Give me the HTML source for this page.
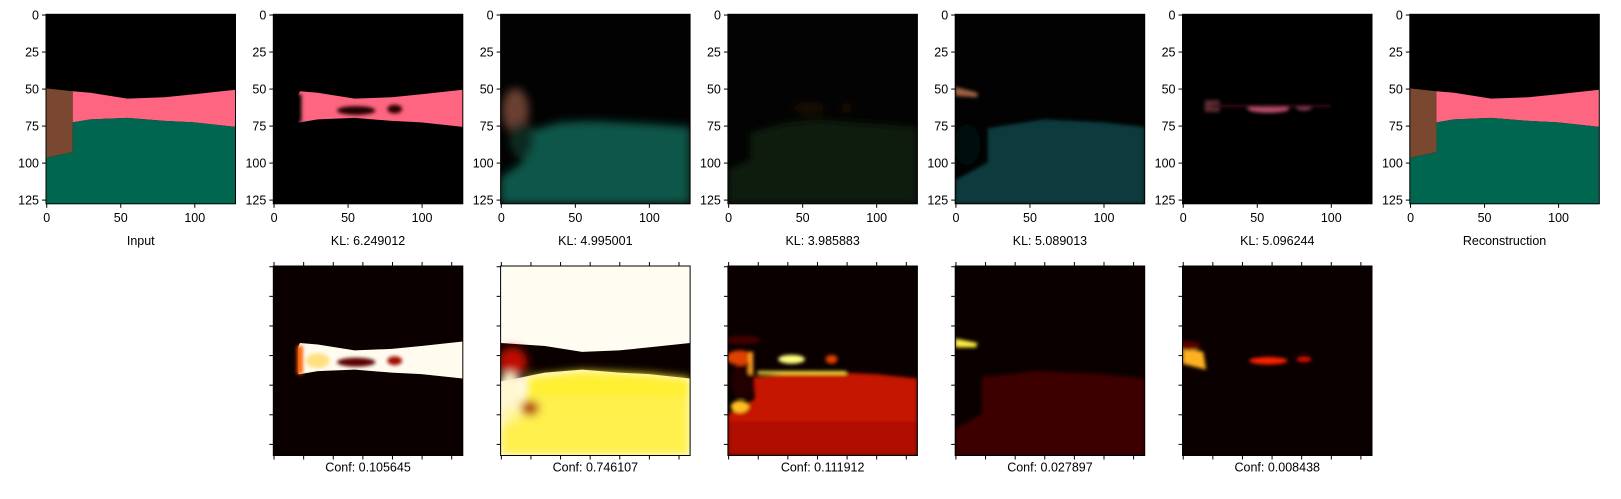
<!DOCTYPE html>
<html><head><meta charset="utf-8"><style>
html,body{margin:0;padding:0;background:#fff;width:1621px;height:499px;overflow:hidden}
svg{display:block;font-family:"Liberation Sans","DejaVu Sans",sans-serif}
</style></head><body>
<svg id="fig" width="1621" height="499" viewBox="0 0 1621 499" xmlns="http://www.w3.org/2000/svg">
<defs>
<filter id="b1" x="-20%" y="-20%" width="140%" height="140%"><feGaussianBlur stdDeviation="1.2"/></filter>
<filter id="b2" x="-20%" y="-20%" width="140%" height="140%"><feGaussianBlur stdDeviation="3"/></filter>
<clipPath id="cp"><rect x="0" y="0" width="128" height="128"/></clipPath>
</defs>
<g id="panels"></g>
</svg>
<script>
const topLabels = ["Input","KL: 6.249012","KL: 4.995001","KL: 3.985883","KL: 5.089013","KL: 5.096244","Reconstruction"];
const confLabels = ["Conf: 0.105645","Conf: 0.746107","Conf: 0.111912","Conf: 0.027897","Conf: 0.008438"];
const yTicks = [0,25,50,75,100,125];
const xTicks = [0,50,100];
const bTicks = [0,20,40,60,80,100,120];
const W = 189.5;
const topX = [46,273.3,500.6,727.9,955.2,1182.5,1409.8];
const TOPY = 14.3, BOTY = 266;
const S = W/128;

const pinkTop = "18,52 30,53 55,57 80,56 100,54 128,51";
const pinkBot = "128,76 100,73 80,72 55,70 30,71 18,73";
const contents = {
 input: `<rect width="128" height="128" fill="#000"/>
  <polygon points="${pinkTop} ${pinkBot}" fill="#fe6580"/>
  <polygon points="18,73 30,71 55,70 80,72 100,73 128,76 128,128 0,128 0,97 18,93" fill="#016650"/>
  <polygon points="0,50 18,52 18,93 0,97" fill="#7a4830"/>`,
 kl1: `<rect width="128" height="128" fill="#000"/>
  <polygon points="17,54 ${pinkTop} ${pinkBot} 17,73" fill="#fe6580"/>
  <g filter="url(#b1)"><ellipse cx="56" cy="65" rx="13" ry="3" fill="#200"/><ellipse cx="82" cy="64" rx="5" ry="3" fill="#300"/><rect x="15" y="54" width="4" height="19" fill="#000"/></g>`,
 kl2: `<rect width="128" height="128" fill="#020202"/>
  <g filter="url(#b2)"><polygon points="15,80 40,73 60,72 100,74 128,76 128,128 0,128 0,110 15,100" fill="#0c5748"/>
  <ellipse cx="10" cy="65" rx="9" ry="15" fill="#6a4030"/><ellipse cx="14" cy="85" rx="8" ry="12" fill="#0a2a22"/></g>`,
 kl3: `<rect width="128" height="128" fill="#030303"/>
  <g filter="url(#b2)"><polygon points="15,80 40,73 60,71 100,74 128,76 128,128 0,128 0,105 15,98" fill="#111a0c"/>
  <ellipse cx="55" cy="63" rx="12" ry="2" fill="#2a1410"/><ellipse cx="80" cy="63" rx="5" ry="2" fill="#2a1410"/></g>`,
 kl4: `<rect width="128" height="128" fill="#020202"/>
  <g filter="url(#b1)"><polygon points="22,77 40,74 60,71 100,73 128,76 128,128 0,128 0,112 22,100" fill="#0a3a3c"/>
  <ellipse cx="8" cy="88" rx="9" ry="14" fill="#050808"/>
  <polygon points="0,49 15,53 15,56 0,55" fill="#a06040"/></g>`,
 kl5: `<rect width="128" height="128" fill="#000"/>
  <g filter="url(#b1)"><rect x="15" y="58" width="10" height="8" fill="#5a2a30"/><ellipse cx="58" cy="64" rx="14" ry="2.5" fill="#c0506e"/><ellipse cx="82" cy="63" rx="5" ry="2" fill="#904060"/><rect x="20" y="61" width="80" height="2" fill="#301018"/></g>`,
};
contents.recon = contents.input;
const tops = ["input","kl1","kl2","kl3","kl4","kl5","recon"];

const bots = [
 `<rect width="128" height="128" fill="#0b0000"/>
  <polygon points="17,54 ${pinkTop} ${pinkBot} 17,73" fill="#fffbef"/>
  <g filter="url(#b1)"><ellipse cx="56" cy="65" rx="13" ry="3" fill="#5a0000"/><ellipse cx="82" cy="64" rx="5" ry="3" fill="#a01000"/><rect x="16" y="54" width="4" height="19" fill="#ff6000"/><ellipse cx="30" cy="64" rx="8" ry="5" fill="#ffe080"/></g>`,
 `<rect width="128" height="128" fill="#fffcf2"/>
  <polygon points="0,52 30,54 55,58 80,57 100,55 128,52 128,76 100,73 80,72 55,70 30,72 0,78" fill="#0b0000"/>
  <g filter="url(#b2)"><polygon points="18,75 55,71 100,73 128,76 128,128 0,128 0,110 18,100" fill="#ffef30"/>
  <rect x="0" y="88" width="128" height="40" fill="#fff060" opacity="0.6"/>
  <ellipse cx="8" cy="65" rx="10" ry="10" fill="#c01000"/><ellipse cx="6" cy="84" rx="8" ry="12" fill="#fff8d0"/><ellipse cx="20" cy="96" rx="6" ry="5" fill="#b01000"/></g>`,
 `<rect width="128" height="128" fill="#0b0000"/>
  <g filter="url(#b1)"><polygon points="18,75 55,71 100,73 128,76 128,128 0,128 0,100 18,90" fill="#c41800"/>
  <rect x="0" y="105" width="128" height="23" fill="#a80800" opacity="0.7"/>
  <ellipse cx="10" cy="78" rx="8" ry="12" fill="#200000"/><ellipse cx="8" cy="95" rx="6" ry="4" fill="#ffc020"/><ellipse cx="8" cy="62" rx="9" ry="5" fill="#e04000"/><rect x="14" y="58" width="3" height="15" fill="#ffa020"/>
  <ellipse cx="43" cy="63" rx="9" ry="3" fill="#ffff80"/><ellipse cx="70" cy="63" rx="4" ry="3" fill="#e04000"/><rect x="20" y="71" width="60" height="2" fill="#ffee40"/><ellipse cx="10" cy="50" rx="12" ry="3" fill="#400000"/></g>`,
 `<rect width="128" height="128" fill="#0b0000"/>
  <g filter="url(#b1)"><polygon points="18,75 55,71 100,73 128,76 128,128 0,128 0,110 18,100" fill="#3c0000"/>
  <polygon points="0,49 15,52 14,55 0,55" fill="#fff040"/></g>`,
 `<rect width="128" height="128" fill="#0b0000"/>
  <g filter="url(#b1)"><polygon points="0,55 14,58 16,70 0,66" fill="#ffb020"/><ellipse cx="58" cy="64" rx="13" ry="2.5" fill="#ff2000"/><ellipse cx="82" cy="63" rx="5" ry="2" fill="#d01000"/><ellipse cx="4" cy="54" rx="8" ry="3" fill="#600000"/></g>`,
];

const root = document.getElementById('panels');
const NS = "http://www.w3.org/2000/svg";
function mk(tag, attrs, parent){const e=document.createElementNS(NS,tag);for(const k in attrs)e.setAttribute(k,attrs[k]);parent.appendChild(e);return e;}

function panel(x0,y0,html,labels,label,idx,kind){
  const g = mk('g',{},root);
  
  
  const img = mk('g',{transform:`translate(${x0},${y0}) scale(${S})`,'clip-path':'url(#cp)'},g);
  img.innerHTML = html;
  
  
  const fr = mk('rect',{x:x0,y:y0,width:W,height:W,fill:'none',stroke:'#000','stroke-width':1},g);
  
  
  if(labels){
    yTicks.forEach(v=>{const y=y0+(v+0.5)*S;
      mk('line',{x1:x0-4,x2:x0,y1:y,y2:y,stroke:'#000'},g);
      const t=mk('text',{x:x0-7,y:y+4.5,'text-anchor':'end','font-size':12.5},g);t.textContent=v;
      
      });
    xTicks.forEach(v=>{const x=x0+(v+0.5)*S;
      mk('line',{x1:x,x2:x,y1:y0+W,y2:y0+W+4,stroke:'#000'},g);
      const t=mk('text',{x:x,y:y0+W+18,'text-anchor':'middle','font-size':12.5},g);t.textContent=v;
      
      });
    const t=mk('text',{x:x0+W/2,y:y0+W+41,'text-anchor':'middle','font-size':12.5},g);t.textContent=label;
    
    
  } else {
    bTicks.forEach(v=>{const p=(v+0.5)*S;
      mk('line',{x1:x0+p,x2:x0+p,y1:y0,y2:y0-4,stroke:'#000'},g);
      mk('line',{x1:x0+p,x2:x0+p,y1:y0+W,y2:y0+W+4,stroke:'#000'},g);
      mk('line',{x1:x0,x2:x0-4,y1:y0+p,y2:y0+p,stroke:'#000'},g);});
    const t=mk('text',{x:x0+W/2,y:y0+W+16,'text-anchor':'middle','font-size':12.5},g);t.textContent=label;
    
    
  }
}
tops.forEach((k,i)=>panel(topX[i],TOPY,contents[k],true,topLabels[i],i,'top'));
bots.forEach((h,i)=>panel(topX[i+1],BOTY,h,false,confLabels[i],i,'conf'));
</script>
</body></html>
